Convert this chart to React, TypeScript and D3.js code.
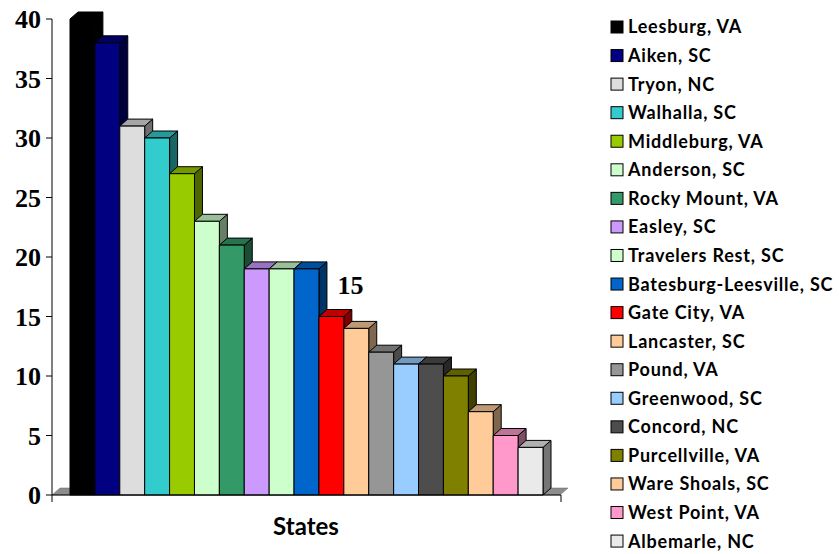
import React from "react";
import * as d3 from "d3";

const cities = [
  "Leesburg, VA", "Aiken, SC", "Tryon, NC", "Walhalla, SC", "Middleburg, VA",
  "Anderson, SC", "Rocky Mount, VA", "Easley, SC", "Travelers Rest, SC",
  "Batesburg-Leesville, SC", "Gate City, VA", "Lancaster, SC", "Pound, VA",
  "Greenwood, SC", "Concord, NC", "Purcellville, VA", "Ware Shoals, SC",
  "West Point, VA", "Albemarle, NC",
];
const values = [40, 38, 31, 30, 27, 23, 21, 19, 19, 19, 15, 14, 12, 11, 11, 10, 7, 5, 4];
const colors = [
  "#000000", "#000080", "#DDDDDD", "#33CCCC", "#99CC00", "#CCFFCC", "#339966",
  "#CC99FF", "#CCFFCC", "#0066CC", "#FF0000", "#FFCC99", "#969696", "#99CCFF",
  "#4D4D4D", "#808000", "#FFCC99", "#FF99CC", "#EAEAEA",
];
const yTicks = [0, 5, 10, 15, 20, 25, 30, 35, 40];
const labeledIndex = 10;
const axisTitle = "States";

export default function App() {
  const W = 839, H = 554;
  const y = d3.scaleLinear().domain([0, 40]).range([495, 19]);
  const x = d3.scaleBand<string>().domain(cities).range([70, 543]).padding(0);
  const dx = 8, dy = 7;
  const shade = (c: string, k: number) => {
    const r = d3.rgb(c);
    return d3.rgb(r.r * k, r.g * k, r.b * k).formatHex();
  };
  const font = "Lato, 'Open Sans', sans-serif";
  const serif = "'Liberation Serif', 'DejaVu Serif', serif";
  const y0 = y(0);
  return (
    <svg width={W} height={H} style={{ position: "absolute", left: 0, top: 0 }}>
      <rect width={W} height={H} fill="#fff" />
      {/* floor */}
      <polygon
        points={`52,${y0} 560,${y0} ${560 + dx},${y0 - dy} ${52 + dx},${y0 - dy}`}
        fill="#8c8c8c"
        stroke="#666"
        strokeWidth={0.5}
      />
      {/* bars */}
      {cities.map((c, i) => {
        const x0 = x(c)!;
        const bw = x.bandwidth();
        const yt = y(values[i]);
        const col = colors[i];
        return (
          <g key={c} stroke="#000" strokeWidth={1} strokeLinejoin="round">
            <polygon
              points={`${x0 + bw},${yt} ${x0 + bw + dx},${yt - dy} ${x0 + bw + dx},${y0 - dy} ${x0 + bw},${y0}`}
              fill={shade(col, 0.5)}
            />
            <polygon
              points={`${x0},${yt} ${x0 + dx},${yt - dy} ${x0 + bw + dx},${yt - dy} ${x0 + bw},${yt}`}
              fill={shade(col, 0.75)}
            />
            <rect x={x0} y={yt} width={bw} height={y0 - yt} fill={col} />
          </g>
        );
      })}
      {/* axes */}
      <line x1={52} y1={y(40)} x2={52} y2={502} stroke="#000" strokeWidth={1} />
      <line x1={52} y1={y0} x2={561} y2={y0} stroke="#000" strokeWidth={1} />
      <line x1={561} y1={y0} x2={561} y2={502} stroke="#000" strokeWidth={1} />
      {yTicks.map((t) => (
        <g key={t}>
          <line x1={46} x2={52} y1={y(t)} y2={y(t)} stroke="#000" strokeWidth={1} />
          <text
            x={41}
            y={y(t)}
            dy="0.35em"
            textAnchor="end"
            fontFamily={serif}
            fontWeight="bold"
            fontSize={26}
            fill="#000"
          >
            {t}
          </text>
        </g>
      ))}
      {/* data label */}
      <text
        x={x(cities[labeledIndex])! + x.bandwidth() / 2 + 19}
        y={y(values[labeledIndex]) - 32}
        dy="0.35em"
        textAnchor="middle"
        fontFamily={serif}
        fontWeight="bold"
        fontSize={26}
        fill="#000"
      >
        {values[labeledIndex]}
      </text>
      <text x={306} y={535} textAnchor="middle" fontFamily={font} fontWeight="bold" fontSize={24} fill="#000">
        {axisTitle}
      </text>
      {/* legend */}
      {cities.map((c, i) => {
        const cy = 27 + i * 28.56;
        return (
          <g key={"lg" + c}>
            <rect x={611} y={cy - 6} width={12} height={12} fill={colors[i]} stroke="#000" strokeWidth={1} />
            <text
              x={628}
              y={cy}
              dy="0.36em"
              fontFamily={font}
              fontWeight="bold"
              fontSize={18}
              letterSpacing={0.8}
              fill="#000"
            >
              {c}
            </text>
          </g>
        );
      })}
    </svg>
  );
}
